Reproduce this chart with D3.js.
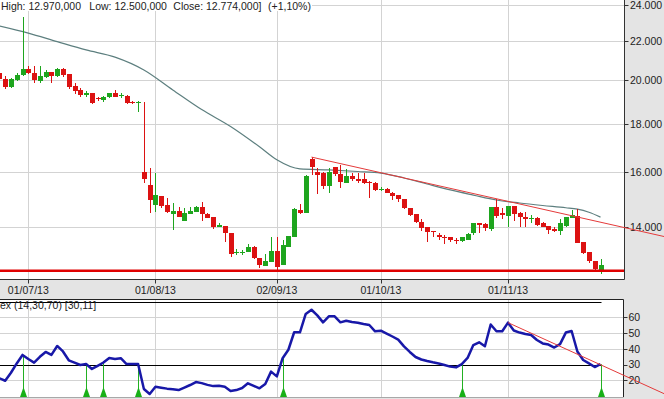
<!DOCTYPE html>
<html><head><meta charset="utf-8">
<script src="https://cdn.jsdelivr.net/npm/d3@7"></script>
<style>body{margin:0;background:#e4e4e4}svg{display:block}text{font-family:"Liberation Sans",Arial,sans-serif;font-size:10.5px;fill:#222}</style>
</head><body><svg id="c" width="664" height="399"></svg>
<script>
// ---- data ----
const open  = [20.35,20.05,19.70,20.02,20.25,20.56,20.35,19.99,20.18,20.41,20.21,20.55,20.31,19.73,19.54,19.32,19.38,19.16,19.07,19.20,19.38,19.26,19.26,18.98,18.95,
  16.02,15.51,14.78,15.11,14.78,14.46,14.58,14.23,14.46,14.54,14.70,14.46,14.34,14.00,14.04,13.82,13.15,13.15,13.17,13.36,12.98,12.74,12.88,13.23,12.77,
  13.35,13.69,14.60,14.50,16.52,16.02,15.98,15.47,16.19,15.95,15.60,15.86,15.73,15.73,15.63,15.60,15.35,15.35,15.23,15.14,14.99,14.66,14.46,14.19,14.00,
  13.89,13.73,13.69,13.67,13.59,13.54,13.59,13.80,14.15,14.11,13.93,14.70,14.48,14.39,14.74,14.48,14.36,14.30,14.31,14.14,14.04,13.93,13.89,14.04,14.31,
  14.39,13.51,13.19,12.91,12.62];
const high  = [20.45,20.19,20.10,20.35,23.33,20.71,20.71,20.71,20.51,20.41,20.60,20.60,20.31,19.89,19.62,19.51,19.41,19.23,19.26,19.41,19.54,19.41,19.31,19.04,19.04,
  18.99,16.16,15.98,15.11,15.02,14.84,14.70,14.66,14.72,14.74,14.90,14.50,14.36,14.16,14.04,13.82,13.27,13.25,13.44,13.38,12.98,13.12,13.68,13.68,13.57,
  13.71,14.66,14.82,15.90,16.60,16.16,16.02,16.16,16.21,16.29,16.12,15.97,15.97,15.99,15.67,15.63,15.45,15.39,15.26,15.14,14.99,14.66,14.46,14.28,14.00,
  13.89,13.80,13.74,13.67,13.63,13.69,13.80,14.16,14.16,14.14,14.70,14.99,14.66,14.74,14.74,14.54,14.54,14.42,14.34,14.19,14.04,14.00,14.28,14.36,14.60,
  14.63,13.51,13.19,12.91,12.97];
const low   = [19.98,19.57,19.65,19.98,20.21,20.31,19.89,19.89,20.10,19.89,20.18,20.15,19.57,19.35,19.20,19.23,18.89,19.04,18.99,19.15,19.20,19.15,18.89,18.87,18.53,
  15.58,14.48,14.54,14.66,14.50,13.91,14.34,14.23,14.46,14.54,14.23,14.31,13.93,14.00,13.51,13.04,13.09,13.09,13.17,12.95,12.67,12.74,12.88,12.62,12.77,
  13.35,13.69,14.46,14.50,15.90,15.18,15.36,15.21,15.86,15.39,15.60,15.67,15.58,15.55,15.02,15.30,15.30,15.21,14.96,14.90,14.62,14.39,14.14,13.89,13.51,
  13.68,13.59,13.46,13.51,13.44,13.51,13.57,13.74,13.80,13.89,13.89,14.31,14.28,14.00,14.23,14.00,14.00,14.16,14.04,14.00,13.77,13.85,13.74,14.02,14.31,
  13.48,13.12,12.85,12.58,12.50];
const close = [20.05,19.70,20.05,20.28,20.55,20.38,20.02,20.21,20.41,20.21,20.55,20.28,19.70,19.51,19.32,19.41,18.95,19.10,19.23,19.38,19.23,19.31,18.92,18.92,18.98,
  15.73,14.96,15.14,14.75,14.54,14.58,14.34,14.50,14.58,14.70,14.46,14.31,14.00,14.08,13.82,13.12,13.19,13.19,13.36,12.98,12.77,12.91,13.23,12.72,13.41,
  13.71,14.62,14.50,15.86,16.19,15.91,15.47,16.02,15.95,15.64,15.86,15.73,15.67,15.60,15.60,15.33,15.38,15.23,15.11,14.99,14.66,14.42,14.19,13.97,13.85,
  13.85,13.69,13.67,13.56,13.55,13.66,13.76,14.15,14.08,13.97,14.70,14.39,14.42,14.74,14.46,14.36,14.28,14.32,14.08,14.02,13.91,13.89,14.14,14.36,14.42,
  13.48,13.16,12.91,12.64,12.774];
const maIndex = [0,5,10,15,20,25,30,35,40,45,48,52,57,62,66,70,74,78,82,86,90,94,98,100,102,104];
const maValue = [22.82,22.43,21.97,21.53,21.16,20.51,19.54,18.63,17.88,17.02,16.49,16.13,16.09,16.03,15.97,15.78,15.55,15.33,15.14,14.96,14.85,14.76,14.68,14.63,14.52,14.35];
const rsi = [21.4,19.8,24.9,30.8,36.2,33.6,31.3,35.0,38.1,36.2,41.9,38.4,32.8,31.3,29.8,30.4,27.3,29.3,31.4,34.3,33.6,34.1,30.4,30.4,30.4,
  14.6,11.4,16.0,15.4,14.8,14.4,13.9,15.5,17.1,19.0,18.3,17.2,16.4,16.6,16.0,13.3,13.9,15.2,18.2,16.6,15.0,17.7,25.6,22.6,34.1,
  39.5,50.6,50.6,62.2,64.9,61.3,56.9,60.7,60.7,56.9,57.9,57.1,56.6,55.8,55.2,51.2,51.6,49.8,47.9,45.9,41.6,38.1,34.9,33.3,32.3,
  31.5,30.8,29.8,28.8,28.3,30.4,34.3,42.5,44.2,41.7,55.5,51.2,51.2,56.7,51.7,50.4,49.5,48.9,45.7,43.5,42.8,40.9,43.1,50.4,51.4,
  38.4,33.0,30.8,28.5,30.3];
const tickIndex  = [5,27,48,66,88];
const tickLabels = ["01/07/13","01/08/13","02/09/13","01/10/13","01/11/13"];
const priceTicks = [14,16,18,20,22,24];
const rsiTicks   = [20,30,40,50,60];
const rsiLevels  = [30,70];
const signalIndex = [4,15,18,24,49,80,104];
const supportLevel = 12.60;
const priceTrend = [[54,16.60],[115,13.69]];
const rsiTrend   = [[88,56.7],[115,11.6]];
const headerParts = ["High: 12.970,000","Low: 12.500,000","Close: 12.774,000]","(+1,10%)"];
const rsiLabel = "ex (14,30,70) [30,11]";

// ---- layout ----
const svg = d3.select("#c");
const plotR = 624, plotB = 279.5, lowT = 299.5, lowB = 397, lowR = 623.5;
const x  = d3.scaleLinear().domain([0,104]).range([-0.6,600.5]);
const y  = d3.scaleLog().domain([14,24]).range([227.3,5.2]);
const yr = d3.scaleLinear().domain([30,70]).range([364.7,301.7]);
const GRID = "#d3d3d3", UP = "#1ea51e", DN = "#dc1212";

svg.append("rect").attr("width",664).attr("height",399).attr("fill","#e4e4e4");
// main plot
svg.append("rect").attr("x",0).attr("y",0).attr("width",plotR).attr("height",plotB).attr("fill","#fff");
const g = svg.append("g");
g.selectAll(".hg").data(priceTicks).join("line")
  .attr("x1",0).attr("x2",plotR).attr("y1",d=>Math.round(y(d))+0.5).attr("y2",d=>Math.round(y(d))+0.5)
  .attr("stroke",GRID);
// header background
svg.append("rect").attr("x",0).attr("y",0).attr("width",312).attr("height",11).attr("fill","#fff");
g.append("g").selectAll("line").data(tickIndex).join("line")
  .attr("x1",d=>Math.round(x(d))+0.5).attr("x2",d=>Math.round(x(d))+0.5).attr("y1",0).attr("y2",plotB)
  .attr("stroke",GRID);

// MA line
const maPts = maIndex.map((d,k)=>[x(d), y(maValue[k])]);
svg.append("path").attr("d", d3.line().curve(d3.curveMonotoneX)(maPts))
  .attr("fill","none").attr("stroke","#5d7f7f").attr("stroke-width",1.2);

// candles
const idx = d3.range(open.length);
const cg = svg.append("g").attr("shape-rendering","crispEdges");
cg.selectAll(".w").data(idx).join("line")
  .attr("x1",i=>Math.round(x(i))+0.5).attr("x2",i=>Math.round(x(i))+0.5)
  .attr("y1",i=>y(high[i])).attr("y2",i=>y(low[i]))
  .attr("stroke",i=>close[i]>=open[i]?UP:DN);
cg.selectAll(".b").data(idx).join("rect")
  .attr("x",i=>Math.round(x(i))-2).attr("width",5)
  .attr("y",i=>y(Math.max(open[i],close[i])))
  .attr("height",i=>Math.max(1.2, y(Math.min(open[i],close[i]))-y(Math.max(open[i],close[i]))))
  .attr("fill",i=>close[i]>=open[i]?UP:DN);

// support line
svg.append("line").attr("x1",0).attr("x2",plotR).attr("y1",y(supportLevel)).attr("y2",y(supportLevel))
  .attr("stroke","#e00000").attr("stroke-width",2.5);

// borders main
svg.append("path").attr("d",`M0,${plotB}H${plotR+0.5}V0`).attr("fill","none").attr("stroke","#333");
// right price axis
svg.selectAll(".pt").data(priceTicks).join("line")
  .attr("x1",plotR+0.5).attr("x2",plotR+4.5).attr("y1",d=>Math.round(y(d))+0.5).attr("y2",d=>Math.round(y(d))+0.5).attr("stroke","#333");
svg.selectAll(".pl").data(priceTicks).join("text")
  .attr("x",630).attr("y",d=>y(d)).attr("dy","0.36em").text(d3.format(".3f"));
// date axis
svg.selectAll(".dt").data(tickIndex).join("line")
  .attr("x1",d=>Math.round(x(d))+0.5).attr("x2",d=>Math.round(x(d))+0.5).attr("y1",plotB).attr("y2",plotB+4).attr("stroke","#333");
svg.selectAll(".dl").data(tickIndex).join("text")
  .attr("x",d=>x(d)).attr("y",293.5).attr("text-anchor","middle").text((d,k)=>tickLabels[k]);
// header
const hx = [1,89.3,173.3,268];
svg.selectAll(".hd").data(headerParts).join("text")
  .attr("x",(d,k)=>hx[k]).attr("y",9.5).attr("fill","#333").text(d=>d);

// price trend line
svg.append("line").attr("x1",x(priceTrend[0][0])).attr("y1",y(priceTrend[0][1]))
  .attr("x2",x(priceTrend[1][0])).attr("y2",y(priceTrend[1][1]))
  .attr("stroke","#e43a3a").attr("stroke-width",1);

// ---- lower RSI panel ----
svg.append("rect").attr("x",0).attr("y",lowT).attr("width",lowR).attr("height",lowB-lowT).attr("fill","#fff");
svg.selectAll(".rg").data(rsiTicks.filter(d=>!rsiLevels.includes(d))).join("line")
  .attr("x1",0).attr("x2",lowR).attr("y1",d=>Math.round(yr(d))+0.5).attr("y2",d=>Math.round(yr(d))+0.5).attr("stroke",GRID);
svg.selectAll(".rv").data(tickIndex).join("line")
  .attr("x1",d=>Math.round(x(d))+0.5).attr("x2",d=>Math.round(x(d))+0.5).attr("y1",lowT).attr("y2",lowB).attr("stroke",GRID);
svg.selectAll(".rl").data(rsiLevels).join("line")
  .attr("x1",0).attr("x2",x(104)+1).attr("y1",d=>Math.round(yr(d))+0.5).attr("y2",d=>Math.round(yr(d))+0.5).attr("stroke","#000");
svg.append("path").attr("d",`M0,${lowT}H${lowR}V${lowB}`).attr("fill","none").attr("stroke","#222");
svg.append("line").attr("x1",0).attr("x2",lowR).attr("y1",lowB+0.5).attr("y2",lowB+0.5).attr("stroke","#a8a8a8");
svg.selectAll(".rt").data(rsiTicks).join("line")
  .attr("x1",lowR).attr("x2",lowR+4).attr("y1",d=>Math.round(yr(d))+0.5).attr("y2",d=>Math.round(yr(d))+0.5).attr("stroke","#333");
svg.selectAll(".rtl").data(rsiTicks).join("text")
  .attr("x",628.5).attr("y",d=>yr(d)).attr("dy","0.36em").text(d=>d);
svg.append("text").attr("x",0).attr("y",309).text(rsiLabel);

// signals
svg.selectAll(".sg").data(signalIndex).join("line")
  .attr("x1",i=>Math.round(x(i))+0.5).attr("x2",i=>Math.round(x(i))+0.5)
  .attr("y1",i=>yr(rsi[i])).attr("y2",lowB).attr("stroke","#22b022");
svg.selectAll(".st").data(signalIndex).join("path")
  .attr("d",i=>{const cx=Math.round(x(i))+0.5;return `M${cx-3.5},${lowB}L${cx},${lowB-10}L${cx+3.5},${lowB}Z`;})
  .attr("fill","#18b018");

// RSI line
svg.append("path").attr("d", d3.line()(rsi.map((v,i)=>[x(i), yr(v)])))
  .attr("fill","none").attr("stroke","#1818a8").attr("stroke-width",2.5).attr("stroke-linejoin","round");

// RSI trend line
svg.append("line").attr("x1",x(rsiTrend[0][0])).attr("y1",yr(rsiTrend[0][1]))
  .attr("x2",x(rsiTrend[1][0])).attr("y2",yr(rsiTrend[1][1]))
  .attr("stroke","#e43a3a").attr("stroke-width",1);
</script></body></html>
